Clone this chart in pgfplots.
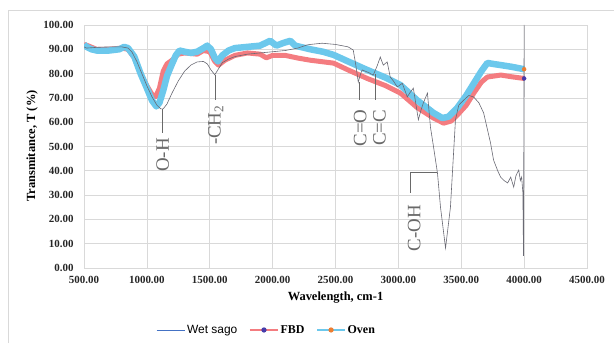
\documentclass[border=0pt]{standalone}
\usepackage{fontspec}
\setmainfont{Liberation Serif}
\setsansfont{Liberation Sans}
\usepackage{pgfplots}
\pgfplotsset{compat=1.18}

\definecolor{ovenc}{RGB}{108,200,236}
\definecolor{fbdc}{RGB}{244,124,128}
\definecolor{spec}{RGB}{105,105,115}
\definecolor{wetc}{RGB}{68,114,196}
\definecolor{gridc}{RGB}{217,217,217}
\definecolor{annc}{RGB}{105,105,105}
\definecolor{fbdm}{RGB}{70,60,170}
\definecolor{ovenm}{RGB}{237,125,49}

\begin{document}
\begin{tikzpicture}[x=1bp,y=1bp]
\path[use as bounding box] (0,0) rectangle (614,343);
\draw[gridc, line width=0.8bp] (8,0) -- (8,333) -- (614,333);
\begin{axis}[
  at={(84bp,75bp)}, anchor=south west,
  scale only axis, width=503bp, height=243bp,
  xmin=500, xmax=4500, ymin=0, ymax=100,
  xtick={500,1000,...,4500}, ytick={0,10,...,100},
  grid=major, major grid style={gridc, line width=0.7bp},
  axis line style={gridc, line width=0.7bp},
  tick style={draw=none},
  /pgf/number format/.cd, fixed, fixed zerofill, precision=2, 1000 sep={}, assume math mode=true,
  /pgfplots/.cd,
  xticklabel={\pgfmathprintnumber{\tick}},
  yticklabel={\pgfmathprintnumber{\tick}},
  tick label style={font=\fontsize{11}{12}\selectfont\bfseries, text=black!85},
  xticklabel style={yshift=-5bp},
  yticklabel style={xshift=-7bp},
  xlabel={Wavelength, cm-1},
  ylabel={Transmitance, T (\%)},
  every axis x label/.style={at={(axis description cs:0.5,-0.123)}, anchor=center, font=\fontsize{12.5}{13}\selectfont\bfseries},
  every axis y label/.style={at={(axis description cs:-0.103,0.502)}, rotate=90, anchor=center, font=\fontsize{12.5}{13}\selectfont\bfseries},
  legend style={at={(axis description cs:0.363,-0.255)}, anchor=center, draw=none, fill=none,
    font=\fontsize{12}{13}\selectfont, legend columns=3,
    /tikz/every even column/.append style={column sep=10bp}},
  legend image code/.code={\draw[mark repeat=2,mark phase=2,#1] plot coordinates {(0bp,0bp) (14bp,0bp) (28bp,0bp)};},
]
% FBD
\addplot[fbdc, line width=5bp, line join=round, forget plot] coordinates {
(500,92) (530,91.5) (600,90) (700,90) (800,90.5) (850,90) (900,86.5) (950,80) (1000,75) (1040,71.5) (1070,70.5)
(1100,74) (1130,81) (1160,84) (1200,85.5) (1250,88) (1300,88.5) (1400,88) (1450,89.5) (1500,89) (1540,85)
(1570,83.5) (1620,85.5) (1700,87.5) (1800,88.5) (1900,88) (1950,86.5) (2000,87.5) (2100,87.5) (2200,86.4)
(2300,85.5) (2485,84.3) (2600,81.5) (2752,78) (2900,75) (3016,72) (3150,66) (3280,61.7) (3360,59.6) (3420,60.5)
(3470,63) (3540,67) (3600,72) (3660,76.5) (3708,78.6) (3815,79.4) (3900,78.7) (4000,78)
};
% Oven
\addplot[ovenc, line width=6.5bp, line join=round, forget plot] coordinates {
(500,92) (520,91) (560,90) (600,89.5) (700,89.5) (780,90) (820,91) (850,90.5) (900,87) (950,80) (1000,74)
(1040,69) (1075,66.5) (1100,68) (1130,73) (1160,79) (1200,84) (1230,87.5) (1260,89.5) (1300,89) (1350,88.5)
(1400,89) (1450,90.5) (1480,91.5) (1510,90) (1540,86.5) (1565,85) (1600,87.5) (1650,89.5) (1700,90.5)
(1800,91) (1900,91.5) (1980,93.5) (2030,91.5) (2080,92.5) (2140,93.5) (2180,91.5) (2220,91) (2300,90)
(2400,89) (2485,87.7) (2600,85) (2752,81.5) (2900,78.3) (3016,75.3) (3150,69) (3280,63.8) (3350,61.7)
(3400,62.3) (3470,66) (3540,71) (3600,76) (3660,81) (3708,84.4) (3750,84) (3815,83.5) (3900,82.8) (4000,81.8)
};
\addplot[only marks, mark=*, mark size=2bp, fbdm, forget plot] coordinates {(4000,78)};
\addplot[only marks, mark=*, mark size=2bp, ovenm, forget plot] coordinates {(4000,81.8)};
% Wet sago spectrum
\addplot[spec, line width=0.6bp, forget plot] coordinates {
(500,91) (520,90.5) (600,90.8) (700,91) (800,91) (850,90.5) (880,89) (920,85) (960,80) (1000,75) (1040,70.5)
(1080,67) (1110,65.5) (1130,65.5) (1160,67.5) (1200,72) (1250,77) (1300,81) (1350,83.5) (1400,84.8) (1450,85)
(1480,84) (1510,81.5) (1540,79.5) (1570,82) (1600,84.5) (1650,86) (1700,87) (1800,88) (1900,88.5) (2000,89)
(2100,89.5) (2200,90.5) (2274,91.8) (2300,92) (2393,92.5) (2500,92) (2600,91) (2641,89.7) (2660,84) (2681,76.5)
(2700,80) (2713,81.5) (2760,80.5) (2800,79.4) (2830,83) (2856,86.8) (2880,83.5) (2911,84.8) (2935,78.6)
(2960,77) (2991,74.5) (3031,76) (3071,70.4) (3090,72) (3119,74) (3159,61) (3180,65) (3199,68) (3231,72)
(3255,58) (3279,50) (3311,39) (3335,25) (3375,8.2) (3414,25) (3454,61) (3480,67) (3518,69) (3560,71)
(3598,70.4) (3640,68) (3678,63.8) (3733,51.4) (3757,44.4) (3790,40) (3813,37.4) (3840,36) (3869,35)
(3893,37.4) (3917,33.3) (3935,38) (3957,40.3) (3970,36) (3980,37.4) (3990,31) (3995,5) (3998,60) (4000,100)
};
% legend
\addlegendimage{wetc, line width=0.8bp}
\addlegendentry{\sffamily Wet sago}
\addlegendimage{fbdc, line width=1.2bp, mark=*, mark size=2bp, mark options={fill=fbdm, draw=fbdm}}
\addlegendentry{\bfseries FBD}
\addlegendimage{ovenc, line width=1.2bp, mark=*, mark size=2bp, mark options={fill=ovenm, draw=ovenm}}
\addlegendentry{\bfseries Oven}
% annotations
\begin{scope}[annc, line width=0.7bp]
\draw (axis cs:1125,65.3) -- (axis cs:1125,55.5);
\node[rotate=90, font=\fontsize{19}{19}\selectfont] at (axis cs:1125,46.5) {O-H};
\draw (axis cs:1545,79.3) -- (axis cs:1545,69);
\node[rotate=90, font=\fontsize{19}{19}\selectfont] at (axis cs:1548,58.8) {-CH\textsubscript{2}};
\draw (axis cs:2690,76.5) -- (axis cs:2690,69);
\node[rotate=90, font=\fontsize{19}{19}\selectfont] at (axis cs:2697,57.6) {C=O};
\draw (axis cs:2820,80) -- (axis cs:2820,69);
\node[rotate=90, font=\fontsize{19}{19}\selectfont] at (axis cs:2850,57.6) {C=C};
\draw (axis cs:3311,39.5) -- (axis cs:3096,39.5) -- (axis cs:3096,30.9);
\node[rotate=90, font=\fontsize{19}{19}\selectfont] at (axis cs:3125,16.5) {C-OH};
\end{scope}
\end{axis}
\end{tikzpicture}
\end{document}
